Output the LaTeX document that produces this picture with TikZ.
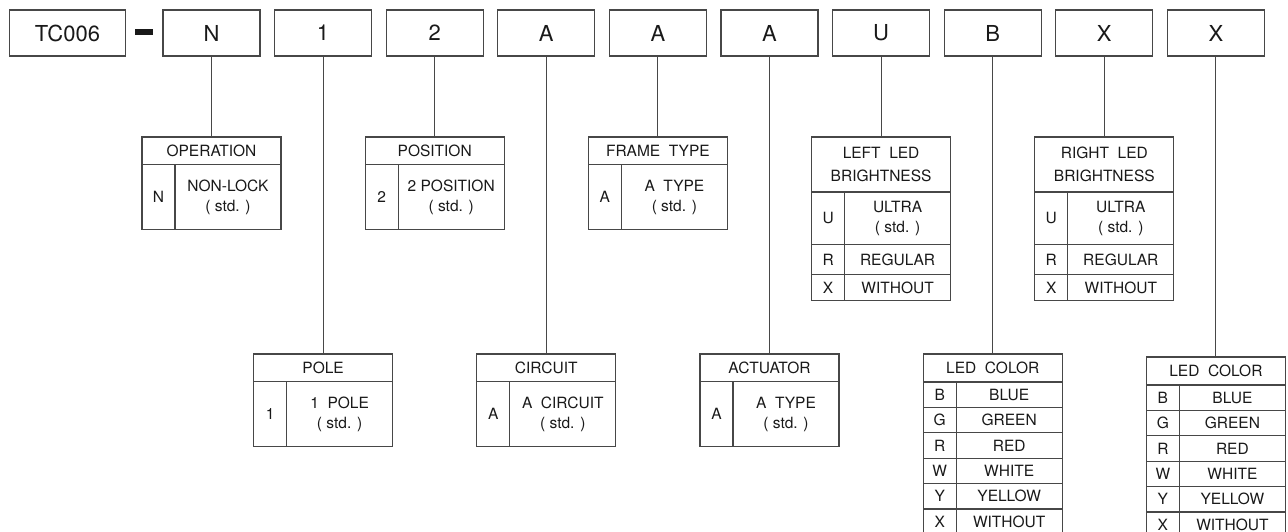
\documentclass[tikz,border=0pt]{standalone}
\usepackage{fontspec}
\setmainfont{TeX Gyre Heros}
\usetikzlibrary{positioning}
\colorlet{rule}{black!72}
\colorlet{ink}{black!90}

\begin{document}
\begin{tikzpicture}[
  x=1pt, y=-1pt,
  every node/.style={inner sep=0pt, outer sep=0pt, text=ink},
  codebox/.style={draw=rule, line width=1.1pt, minimum width=97, minimum height=46,
    font=\fontsize{22}{24}\selectfont},
  cell/.style={draw=rule, line width=1.1pt, align=center, font=\fontsize{15.5}{20}\selectfont},
  headcell/.style={cell, minimum width=139},
  keycell/.style={cell, minimum width=33},
  valcell/.style={cell, minimum width=106},
  link/.style={draw=rule, line width=1.1pt}
]
\clip (0,0) rectangle (1288,532);

% part number
\node[codebox, minimum width=116] (base) at (67.5,33) {TC006};
\node[fill=ink, minimum width=17.5, minimum height=6] (dash) at (144,32.5) {};
\foreach \lbl [count=\i from 0] in {N,1,2,A,A,A,U,B,X,X}
  \node[codebox] (c\i) at ({211.5+111.6*\i},33) {\lbl};

% one-choice tables
\foreach \nm/\i/\y/\hd/\k/\v in {op/0/137/OPERATION/N/NON-LOCK, pos/2/137/POSITION/2/2 POSITION,
    frame/4/137/FRAME~~TYPE/A/A~~TYPE, pole/1/354/POLE/1/1~~POLE,
    circ/3/354/CIRCUIT/A/A~~CIRCUIT, act/5/354/ACTUATOR/A/A~~TYPE}
{
  \node[headcell, minimum height=27.5, anchor=north] (\nm) at ({211.5+111.6*\i},\y) {\hd};
  \node[keycell, minimum height=65, anchor=north west] (\nm-k) at (\nm.south west) {\k};
  \node[valcell, minimum height=65, anchor=north west] (\nm-v) at (\nm-k.north east) {\v\\( std. )};
}

% brightness
\foreach \nm/\i/\side in {lbr/6/LEFT, rbr/8/RIGHT}
{
  \node[headcell, minimum height=55, anchor=north, font=\fontsize{15.5}{23}\selectfont]
    (\nm) at ({211.5+111.6*\i},137) {\side~~LED\\BRIGHTNESS};
  \node[keycell, minimum height=52.5, anchor=north west] (\nm-ku) at (\nm.south west) {U};
  \node[valcell, minimum height=52.5, anchor=north west] (\nm-vu) at (\nm-ku.north east) {ULTRA\\( std. )};
  \node[keycell, minimum height=30, anchor=north west] (\nm-kr) at (\nm-ku.south west) {R};
  \node[valcell, minimum height=30, anchor=north west] (\nm-vr) at (\nm-kr.north east) {REGULAR};
  \node[keycell, minimum height=26, anchor=north west] (\nm-kx) at (\nm-kr.south west) {X};
  \node[valcell, minimum height=26, anchor=north west] (\nm-vx) at (\nm-kx.north east) {WITHOUT};
}

% led colour
\foreach \nm/\i/\y in {lcol/7/354, rcol/9/357}
{
  \node[headcell, minimum height=28, anchor=north] (\nm) at ({211.5+111.6*\i},\y) {LED~~COLOR};
  \foreach \k/\v [count=\r from 0] in {B/BLUE,G/GREEN,R/RED,W/WHITE,Y/YELLOW,X/WITHOUT}
  {
    \node[keycell, minimum height=25.4, anchor=north west] (\nm-k\r) at ([yshift=-25.4*\r]\nm.south west) {\k};
    \node[valcell, minimum height=25.4, anchor=north west] (\nm-v\r) at (\nm-k\r.north east) {\v};
  }
}

\foreach \a/\b in {c0/op,c1/pole,c2/pos,c3/circ,c4/frame,c5/act,c6/lbr,c7/lcol,c8/rbr,c9/rcol}
  \draw[link] (\a.south) -- (\b.north);
\end{tikzpicture}
\end{document}
